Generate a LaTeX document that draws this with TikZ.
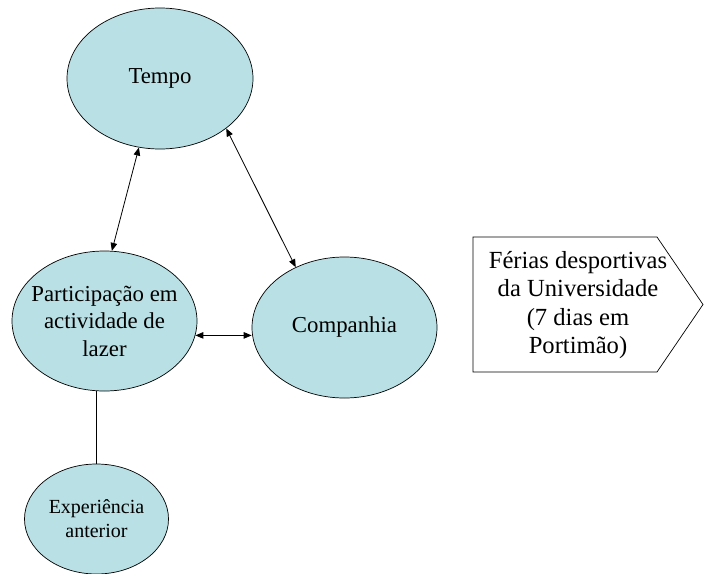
\documentclass[tikz,border=0pt]{standalone}
\usepackage{fontspec}
\setmainfont{Liberation Serif}
\usepackage{xcolor}
\usepackage{tikz}
\usetikzlibrary{shapes.geometric}
\usetikzlibrary{arrows.meta}
\definecolor{bubblefill}{RGB}{185,224,228}
\begin{document}
\begin{tikzpicture}[x=1pt,y=-1pt,
    bubble/.style={ellipse,draw,line width=0.7pt,fill=bubblefill,inner ysep=0pt,inner xsep=-12pt,
      align=center,font=\fontsize{22.8}{27.5}\selectfont},
    conn/.style={line width=0.8pt,{Triangle[length=8pt,width=6.5pt]}-{Triangle[length=8pt,width=6.5pt]}}]
       \useasboundingbox (0,0) rectangle (706,573);
       % bubbles
       \node[bubble,minimum width=186pt,minimum height=141pt] (tempo) at (160,78.5) {Tempo};
       \node[bubble,minimum width=185pt,minimum height=140pt] (part) at (104.5,321)
         {Participação em\\actividade de\\lazer};
       \node[bubble,minimum width=185pt,minimum height=141pt] (comp) at (344.5,327.5) {Companhia};
       \node[bubble,minimum width=144pt,minimum height=110pt,font=\fontsize{20}{24}\selectfont]
         (exp) at (96.5,519) {Experiência\\anterior};
       % links
       \draw[conn] (tempo.253) -- (part.84);
       \draw[conn] (tempo.-37) -- (comp.129);
       \draw[conn] (part.-9) -- (comp.west |- part.-9);
       \draw[line width=0.8pt] (exp.north) -- (exp.north |- part.south);
       % the trip
       \draw[line width=0.7pt] (473,237) -- (657,237) -- (703,304.5) -- (657,372) -- (473,372) -- cycle;
       \node[align=center,font=\fontsize{24.6}{28.5}\selectfont] (ferias) at (578,305)
         {Férias desportivas\\da Universidade\\(7 dias em\\Portimão)};
\end{tikzpicture}
\end{document}
